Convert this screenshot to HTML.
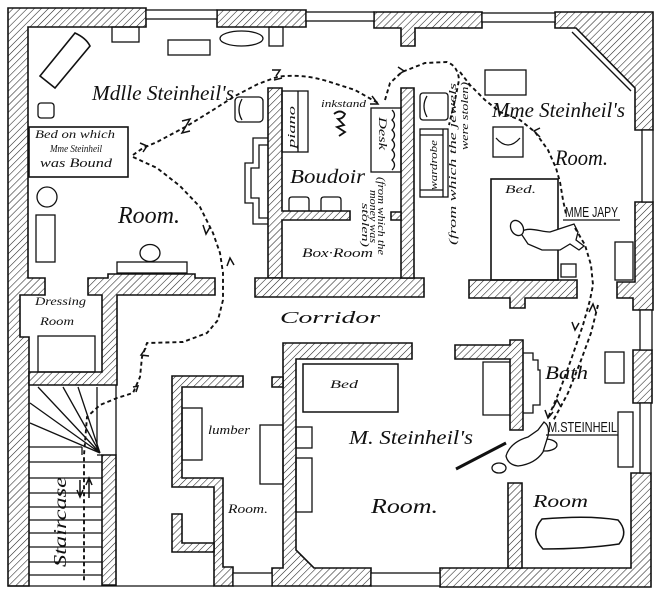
<!DOCTYPE html>
<html><head><meta charset="utf-8"><style>
html,body{margin:0;padding:0;background:#fff;}
svg{display:block;}
.s{font-family:"Liberation Serif",serif;font-style:italic;fill:#111;}
.c{font-family:"Liberation Sans",sans-serif;fill:#111;}
</style></head><body>
<svg width="658" height="599" viewBox="0 0 658 599" xmlns="http://www.w3.org/2000/svg">
<defs>
<pattern id="h" patternUnits="userSpaceOnUse" width="5" height="5" patternTransform="rotate(45)">
<rect width="5" height="5" fill="#fff"/>
<line x1="0" y1="0" x2="0" y2="5" stroke="#222" stroke-width="1.1"/>
</pattern>
</defs>
<rect width="658" height="599" fill="#fff"/>

<!-- walls -->
<g fill="url(#h)" stroke="#111" stroke-width="1.6" stroke-linejoin="miter">
<polygon points="8,8 146,8 146,27 28,27 28,278 45,278 45,295 20,295 20,337 29,337 29,586 8,586"/>
<polygon points="217,10 306,10 306,27 217,27"/>
<polygon points="374,12 482,12 482,28 415,28 415,46 401,46 401,28 374,28"/>
<polygon points="555,12 653,12 653,130 635,130 635,88 576,28 555,28"/>
<polygon points="635,202 653,202 653,310 633,310 633,298 617,298 617,282 635,282"/>
<polygon points="633,350 652,350 652,403 633,403"/>
<polygon points="631,473 651,473 651,587 440,587 440,568 631,568"/>
<polygon points="283,343 412,343 412,359 296,359 296,550 314,568 371,568 371,586 272,586 272,568 283,568"/>
<polygon points="272,377 283,377 283,387 272,387"/>
<polygon points="172,376 243,376 243,387 182,387 182,478 223,478 223,567 233,567 233,586 214,586 214,487 172,487"/>
<polygon points="172,514 182,514 182,543 214,543 214,552 172,552"/>
<polygon points="102,455 116,455 116,585 102,585"/>
<polygon points="88,278 108,278 108,274 195,274 195,278 215,278 215,295 117,295 117,385 29,385 29,372 102,372 102,295 88,295"/>
<polygon points="268,88 282,88 282,211 350,211 350,220 282,220 282,278 268,278"/>
<polygon points="255,278 424,278 424,297 255,297"/>
<polygon points="401,88 414,88 414,278 401,278"/>
<polygon points="391,212 401,212 401,220 391,220"/>
<polygon points="469,280 577,280 577,298 525,298 525,308 510,308 510,298 469,298"/>
<polygon points="455,345 510,345 510,340 523,340 523,430 510,430 510,359 455,359"/>
<polygon points="508,483 522,483 522,568 508,568"/>
</g>

<!-- windows and thin lines -->
<g fill="#fff" stroke="#111" stroke-width="1.3">
<rect x="146" y="10" width="71" height="9"/>
<rect x="306" y="12" width="68" height="9"/>
<rect x="482" y="13" width="73" height="9"/>
<rect x="642" y="130" width="11" height="72"/>
<rect x="640" y="310" width="12" height="40"/>
<rect x="640" y="403" width="11" height="70"/>
<rect x="371" y="573" width="69" height="13"/>
<rect x="233" y="573" width="39" height="13"/>
</g>
<g fill="none" stroke="#111" stroke-width="1.3">
<line x1="572" y1="32" x2="631" y2="91"/>
<line x1="8" y1="586" x2="214" y2="586"/>
<line x1="116" y1="385" x2="116" y2="455"/>
<!-- stairs -->
<line x1="97" y1="387" x2="97" y2="452"/>
<line x1="97" y1="455" x2="102" y2="455"/>
<line x1="29" y1="447" x2="82" y2="447"/>
<line x1="82" y1="447" x2="82" y2="455"/>
<line x1="29" y1="462" x2="102" y2="462"/>
<line x1="29" y1="478" x2="102" y2="478"/>
<line x1="29" y1="493" x2="102" y2="493"/>
<line x1="29" y1="507" x2="102" y2="507"/>
<line x1="29" y1="520" x2="102" y2="520"/>
<line x1="29" y1="533" x2="102" y2="533"/>
<line x1="29" y1="547" x2="102" y2="547"/>
<line x1="29" y1="562" x2="102" y2="562"/>
<line x1="29" y1="575" x2="102" y2="575"/>
<path d="M100,453 L30,423 M100,453 L30,403 M100,453 L38,387 M100,453 L63,387 M100,453 L78,387"/>
<!-- Mlle furniture -->
<rect x="112" y="27" width="27" height="15"/>
<rect x="168" y="40" width="42" height="15"/>
<ellipse cx="241.5" cy="38.5" rx="21.5" ry="7.5"/>
<rect x="269" y="27" width="14" height="19"/>
<path d="M40,76 L75,33 Q86,38 90,46 L55,88 Z" stroke-width="1.6"/>
<rect x="38" y="103" width="16" height="15" rx="3"/>
<rect x="29" y="127" width="99" height="50" stroke-width="1.6"/>
<circle cx="47" cy="197" r="10"/>
<rect x="36" y="215" width="19" height="47"/>
<rect x="117" y="262" width="70" height="11"/>
<ellipse cx="150" cy="253" rx="10" ry="8.5"/>
<rect x="235" y="97" width="28" height="25" rx="4"/>
<path d="M242,99 Q236,110 242,120"/>
<path d="M268,138 L253,138 L253,163 L245,163 L245,203 L253,203 L253,224 L268,224"/>
<path d="M268,145 L259,145 L259,168 L251,168 L251,198 L259,198 L259,218 L268,218"/>
<rect x="38" y="336" width="57" height="36"/>
<!-- boudoir -->
<rect x="282" y="91" width="26" height="61"/>
<line x1="298" y1="91" x2="298" y2="152"/>
<rect x="371" y="108" width="30" height="64"/>
<path d="M392,110 q5,5 0,10 q5,5 0,10 q5,5 0,10 q5,5 0,10 q5,5 0,10 q5,5 0,10"/>
<path d="M289,211 L289,200 Q289,197 292,197 L306,197 Q309,197 309,200 L309,211"/>
<path d="M321,211 L321,200 Q321,197 324,197 L338,197 Q341,197 341,200 L341,211"/>
<!-- Mme room -->
<rect x="420" y="93" width="28" height="27" rx="3"/>
<path d="M427,96 Q421,106 427,117"/>
<rect x="420" y="129" width="28" height="68"/>
<line x1="443" y1="129" x2="443" y2="197"/>
<line x1="420" y1="135" x2="443" y2="135"/>
<line x1="420" y1="190" x2="443" y2="190"/>
<rect x="485" y="70" width="41" height="25"/>
<rect x="493" y="127" width="30" height="30"/>
<path d="M496,138 Q508,152 520,138"/>
<rect x="491" y="179" width="67" height="101" stroke-width="1.6"/>
<rect x="561" y="264" width="15" height="13"/>
<rect x="615" y="242" width="18" height="38"/>
<!-- M Steinheil room -->
<rect x="303" y="364" width="95" height="48" stroke-width="1.5"/>
<rect x="296" y="427" width="16" height="21"/>
<rect x="296" y="458" width="16" height="54"/>
<rect x="260" y="425" width="23" height="59"/>
<rect x="182" y="408" width="20" height="52"/>
<path d="M510,362 L483,362 L483,415 L510,415"/>
<path d="M523,353 L533,353 L533,360 L538,360 L538,370 L540,370 L540,405 L533,405 L533,413 L523,413"/>
<rect x="605" y="352" width="19" height="31"/>
<rect x="618" y="412" width="15" height="55"/>
<path d="M542,519 Q590,515 618,520 Q629,532 619,544 Q585,549 543,549 Q529,534 542,519 Z" stroke-width="1.5"/>
</g>

<!-- figures -->
<g stroke="#111" stroke-width="1.3" fill="#fff">
<ellipse cx="545" cy="445" rx="12" ry="6"/>
<path d="M506,456 C509,446 518,440 528,437 L538,430 L544,422 Q550,426 548,436 L543,452 Q535,464 518,466 Q508,465 506,456 Z"/>
<ellipse cx="499" cy="468" rx="7" ry="5"/>
<path d="M520,232 C530,226 540,232 550,232 L565,227 L574,224 L578,232 L576,240 L584,246 L579,250 L570,244 L560,250 L542,250 L528,244 Z"/>
<ellipse cx="517" cy="228" rx="6" ry="8" transform="rotate(-30 517 228)"/>
<path d="M334,114 q6,-5 11,0 q-2,5 -7,5 l6,6 l-7,2 l8,5 l-6,4" fill="none" stroke-width="1.8"/>
</g>
<line x1="456" y1="469" x2="506" y2="443" stroke="#111" stroke-width="3"/>

<!-- dashed paths -->
<g fill="none" stroke="#111" stroke-width="1.9" stroke-dasharray="4,3">
<path d="M133,155 L143,148 L157,142 L187,126 L213,110 L235,96 L258,84 L277,77 Q302,73 330,82 L355,90 L378,103"/>
<path d="M385,100 L390,83 L402,72 L425,63 L447,62 Q458,66 459,80 L455,100 L449,125"/>
<path d="M460,72 L470,85 L485,100 L500,112 L520,120 L535,132 L548,150 L556,168 L560,182 L563,200 L566,214"/>
<path d="M575,228 L585,245 L591,265 L593,285 L590,300 L583,325 L572,357 L560,390 L548,418"/>
<path d="M598,305 L591,333 L580,363 L568,393 L553,421"/>
<path d="M133,157 L157,168 L180,186 L200,207 L213,233 L220,253 L223,273 L223,300 L218,320 L207,333 L183,342 L147,343 L142,357 L140,377 L133,393 L117,398 L100,405 L87,417 L84,455 L84,582"/>
</g>
<!-- arrowheads -->
<g fill="none" stroke="#111" stroke-width="1.5">
<path d="M140,143 L147,146 L143,152"/>
<path d="M182,121 L190,119 L186,126 M190,131 L182,133 L186,126"/>
<path d="M272,70 L280,70 L276,76 M282,78 L274,80"/>
<path d="M372,96 L378,104 L370,104"/>
<path d="M398,67 L404,71 L398,75"/>
<path d="M540,128 L534,131 L540,137"/>
<path d="M203,225 L206,234 L210,227"/>
<path d="M227,266 L230,258 L234,265"/>
<path d="M146,348 L141,355 L149,356"/>
<path d="M133,387 L138,386 L136,392"/>
<path d="M77,490 L80,497 L83,490 M80,497 L80,480"/>
<path d="M86,485 L89,478 L92,485 M89,478 L89,498"/>
<path d="M589,312 L593,304 L596,312"/>
<path d="M572,322 L575,330 L579,323"/>
<path d="M545,410 L548,418 L553,412"/>
<path d="M553,408 L557,400 L561,407"/>
</g>

<!-- labels -->
<text class="s" x="92" y="100" font-size="21" textLength="142" lengthAdjust="spacingAndGlyphs">Mdlle Steinheil's</text>
<text class="s" x="118" y="223" font-size="24" textLength="62" lengthAdjust="spacingAndGlyphs">Room.</text>
<text class="s" x="290" y="183" font-size="20" textLength="75" lengthAdjust="spacingAndGlyphs">Boudoir</text>
<text class="s" x="302" y="257" font-size="13" textLength="71" lengthAdjust="spacingAndGlyphs">Box·Room</text>
<text class="s" x="280" y="323" font-size="17" textLength="100" lengthAdjust="spacingAndGlyphs">Corridor</text>
<text class="s" x="492" y="117" font-size="21" textLength="133" lengthAdjust="spacingAndGlyphs">Mme Steinheil's</text>
<text class="s" x="555" y="165" font-size="22" textLength="53" lengthAdjust="spacingAndGlyphs">Room.</text>
<text class="s" x="349" y="444" font-size="20" textLength="124" lengthAdjust="spacingAndGlyphs">M. Steinheil's</text>
<text class="s" x="371" y="513" font-size="21" textLength="67" lengthAdjust="spacingAndGlyphs">Room.</text>
<text class="s" x="545" y="379" font-size="19" textLength="43" lengthAdjust="spacingAndGlyphs">Bath</text>
<text class="s" x="533" y="507" font-size="18" textLength="55" lengthAdjust="spacingAndGlyphs">Room</text>
<text class="s" x="208" y="434" font-size="13" textLength="42" lengthAdjust="spacingAndGlyphs">lumber</text>
<text class="s" x="228" y="513" font-size="13" textLength="40" lengthAdjust="spacingAndGlyphs">Room.</text>
<text class="s" x="35" y="305" font-size="12" textLength="51" lengthAdjust="spacingAndGlyphs">Dressing</text>
<text class="s" x="40" y="325" font-size="12" textLength="34" lengthAdjust="spacingAndGlyphs">Room</text>
<text class="s" x="35" y="138" font-size="12" textLength="80" lengthAdjust="spacingAndGlyphs">Bed on which</text>
<text class="s" x="50" y="152" font-size="10" textLength="52" lengthAdjust="spacingAndGlyphs">Mme Steinheil</text>
<text class="s" x="40" y="167" font-size="13" textLength="72" lengthAdjust="spacingAndGlyphs">was Bound</text>
<text class="s" x="321" y="107" font-size="11" textLength="45" lengthAdjust="spacingAndGlyphs">inkstand</text>
<text class="s" x="505" y="193" font-size="12" textLength="31" lengthAdjust="spacingAndGlyphs">Bed.</text>
<text class="s" x="330" y="388" font-size="12" textLength="28" lengthAdjust="spacingAndGlyphs">Bed</text>
<text class="s" transform="translate(66,567) rotate(-90)" font-size="18" textLength="90" lengthAdjust="spacingAndGlyphs">Staircase</text>
<text class="s" transform="translate(295,148) rotate(-90)" font-size="11" textLength="42" lengthAdjust="spacingAndGlyphs">piano</text>
<text class="s" transform="translate(379,117) rotate(90)" font-size="12" textLength="33" lengthAdjust="spacingAndGlyphs">Desk</text>
<text class="s" transform="translate(437,190) rotate(-90)" font-size="10" textLength="50" lengthAdjust="spacingAndGlyphs">wardrobe</text>
<text class="s" transform="translate(378,177) rotate(90)" font-size="10" textLength="78" lengthAdjust="spacingAndGlyphs">(from which the</text>
<text class="s" transform="translate(370,190) rotate(90)" font-size="10" textLength="53" lengthAdjust="spacingAndGlyphs">money was</text>
<text class="s" transform="translate(362,203) rotate(90)" font-size="10" textLength="44" lengthAdjust="spacingAndGlyphs">stolen)</text>
<text class="s" transform="translate(456,245) rotate(-90)" font-size="10" textLength="162" lengthAdjust="spacingAndGlyphs">(from which the jewels</text>
<text class="s" transform="translate(468,150) rotate(-90)" font-size="10" textLength="68" lengthAdjust="spacingAndGlyphs">were stolen)</text>
<text class="c" x="565" y="217" font-size="15" textLength="53" lengthAdjust="spacingAndGlyphs">MME JAPY</text>
<line x1="563" y1="220" x2="620" y2="220" stroke="#111" stroke-width="1.2"/>
<text class="c" x="548" y="432" font-size="15" textLength="69" lengthAdjust="spacingAndGlyphs">M.STEINHEIL</text>
<line x1="546" y1="435" x2="618" y2="435" stroke="#111" stroke-width="1.2"/>
</svg>
</body></html>
